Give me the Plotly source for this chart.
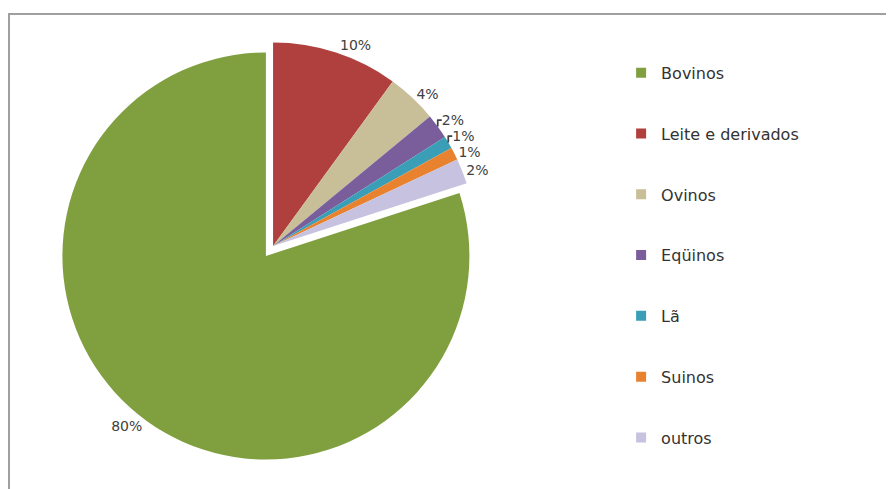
import plotly.graph_objects as go

categories = ["Bovinos", "Leite e derivados", "Ovinos", "Eqüinos", "Lã", "Suinos", "outros"]
values = [80, 10, 4, 2, 1, 1, 2]
colors = ["#80A040", "#B0403E", "#C8BE98", "#7A5E9C", "#3A9EB6", "#E8822F", "#C6C2E0"]
pulls = [0.06, 0, 0, 0, 0, 0, 0]

W, H = 886, 481

fig = go.Figure()
fig.add_trace(go.Pie(
    labels=categories,
    values=values,
    marker=dict(colors=colors, line=dict(width=0)),
    sort=False,
    direction="clockwise",
    rotation=72,
    pull=pulls,
    textinfo="percent",
    texttemplate="%{percent:.0%}",
    textposition="outside",
    textfont=dict(family="DejaVu Sans", size=14, color="#404040"),
    showlegend=False,
    domain=dict(x=[0.0525, 0.5459], y=[0.0551, 0.9634]),
))

for cat, col in zip(categories, colors):
    fig.add_trace(go.Scatter(
        x=[None], y=[None], mode="markers", name=cat, legendgroup=cat,
        marker=dict(symbol="square", size=10, color=col),
        showlegend=True, hoverinfo="skip",
    ))

fig.update_layout(
    width=W, height=H,
    margin=dict(l=0, r=0, t=0, b=0),
    paper_bgcolor="white", plot_bgcolor="white",
    xaxis=dict(visible=False), yaxis=dict(visible=False),
    legend=dict(
        x=0.692, y=0.91, xanchor="left", yanchor="top",
        tracegroupgap=37, traceorder="grouped",
        font=dict(family="DejaVu Sans", size=16, color="#333333"),
        bgcolor="rgba(0,0,0,0)",
    ),
    shapes=[dict(type="rect", xref="paper", yref="paper",
                 x0=1/W, x1=1.02, y0=-0.02, y1=1-1/H,
                 line=dict(color="#A0A0A0", width=2), layer="below")],
)

fig.write_html("out.html")
